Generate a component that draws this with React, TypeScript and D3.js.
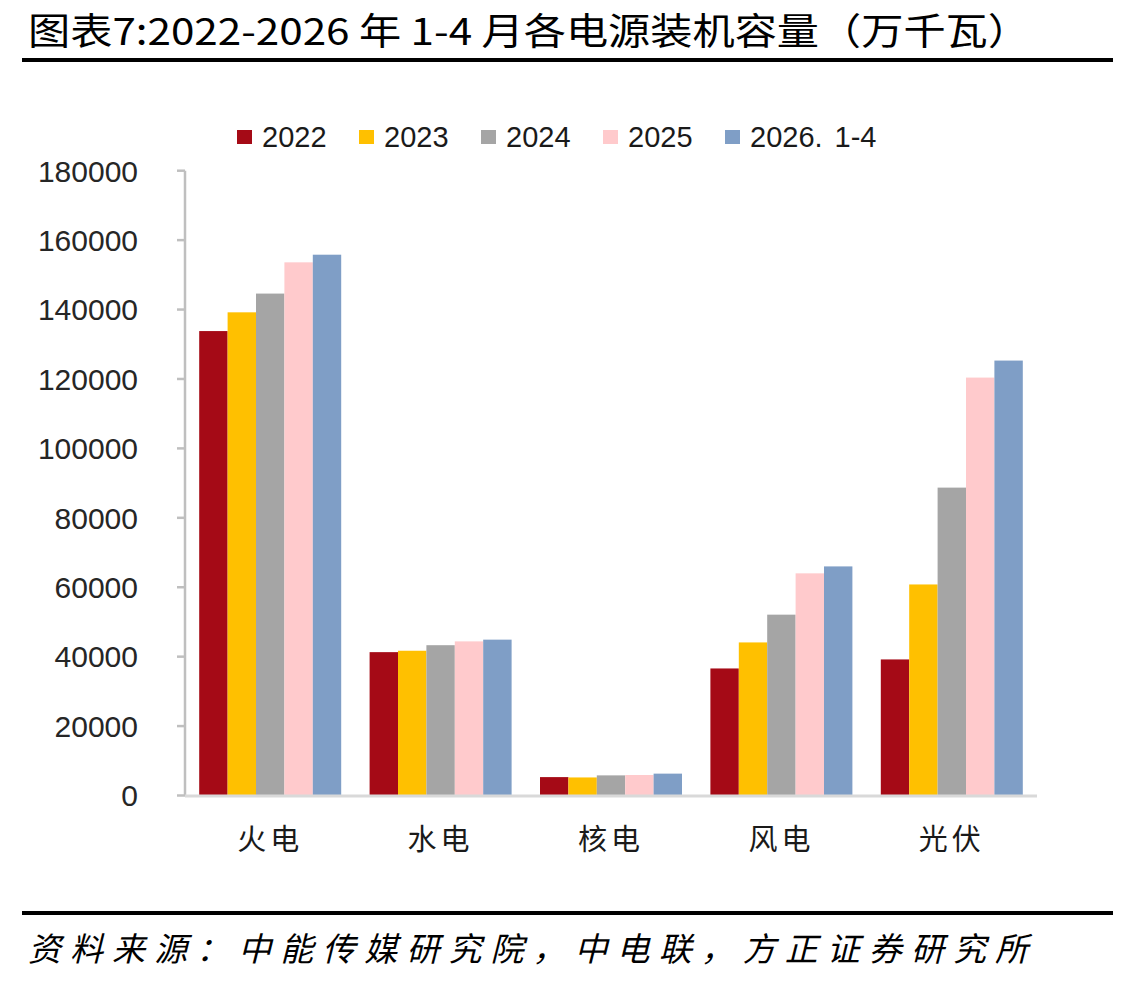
import React from "react";
import * as d3 from "d3";

const categories = ["火电", "水电", "核电", "风电", "光伏"];
const seriesNames = ["2022", "2023", "2024", "2025", "2026.1-4"];
const seriesColors = ["#A50A16", "#FFC000", "#A5A5A5", "#FFCACC", "#7F9EC6"];

const values2022 = [133800, 41300, 5300, 36600, 39200];
const values2023 = [139200, 41700, 5200, 44100, 60800];
const values2024 = [144600, 43300, 5800, 52100, 88700];
const values2025 = [153600, 44400, 5900, 64000, 120400];
const values2026 = [155800, 44900, 6300, 66000, 125300];
const seriesValues = [values2022, values2023, values2024, values2025, values2026];

const yTicks = [0, 20000, 40000, 60000, 80000, 100000, 120000, 140000, 160000, 180000];

const titleText = "图表7:2022-2026 年 1-4 月各电源装机容量（万千瓦）";
const sourceText = "资料来源：中能传媒研究院，中电联，方正证券研究所";

const W = 1130;
const H = 984;
const plot = { left: 185, right: 1037, top: 170.7, bottom: 795.5 };

// Legend labels with a "." are drawn in two parts so the period gets a wider gap.
function LegendLabel({ name }: { name: string }) {
  const dot = name.indexOf(".");
  if (dot < 0) return <>{name}</>;
  return (
    <>
      <tspan>{name.slice(0, dot + 1)}</tspan>
      <tspan dx={12}>{name.slice(dot + 1)}</tspan>
    </>
  );
}

export default function App() {
  const x = d3
    .scaleBand<string>()
    .domain(categories)
    .range([plot.left, plot.right])
    .paddingInner(0)
    .paddingOuter(0);
  const band = x.bandwidth();
  const barW = band / 6;
  const xs = d3
    .scaleBand<string>()
    .domain(seriesNames)
    .range([barW / 2, band - barW / 2]);
  const y = d3.scaleLinear().domain([0, 180000]).range([plot.bottom, plot.top]);

  const numFont = "'Liberation Sans', Arial, sans-serif";
  const cjkFont = "'Noto Sans CJK SC', sans-serif";

  const legendX0 = 237;
  const legendStep = 122;

  return (
    <svg
      width={W}
      height={H}
      viewBox={`0 0 ${W} ${H}`}
      style={{ position: "absolute", left: 0, top: 0, background: "#fff" }}
    >
      <rect x={0} y={0} width={W} height={H} fill="#fff" />

      {/* header */}
      <text
        x={28}
        y={45}
        fontFamily={cjkFont}
        fontSize={37}
        fill="#000"
        textLength={1002}
        lengthAdjust="spacingAndGlyphs"
      >
        {titleText}
      </text>
      <line x1={22} x2={1113} y1={60} y2={60} stroke="#000" strokeWidth={4} />

      {/* legend */}
      {seriesNames.map((name, i) => (
        <g key={name} transform={`translate(${legendX0 + i * legendStep},0)`}>
          <rect x={0} y={130} width={15} height={14} fill={seriesColors[i]} />
          <text x={25} y={147} fontFamily={numFont} fontSize={29} fill="#1a1a1a">
            <LegendLabel name={name} />
          </text>
        </g>
      ))}

      {/* y axis */}
      <line x1={plot.left} x2={plot.left} y1={y(180000)} y2={plot.bottom} stroke="#BFBFBF" strokeWidth={2.5} />
      {yTicks.map((t) => (
        <g key={t}>
          <line x1={177} x2={plot.left} y1={y(t)} y2={y(t)} stroke="#BFBFBF" strokeWidth={2.5} />
          <text
            x={138}
            y={y(t)}
            dy="0.36em"
            textAnchor="end"
            fontFamily={numFont}
            fontSize={30}
            fill="#262626"
          >
            {t}
          </text>
        </g>
      ))}

      {/* bars */}
      {categories.map((c, ci) => (
        <g key={c} transform={`translate(${x(c)},0)`}>
          {seriesNames.map((s, si) => {
            const v = seriesValues[si][ci];
            return (
              <rect
                key={s}
                x={xs(s)}
                y={y(v)}
                width={xs.bandwidth()}
                height={y(0) - y(v)}
                fill={seriesColors[si]}
              />
            );
          })}
        </g>
      ))}

      {/* x axis */}
      <line x1={plot.left} x2={plot.right} y1={plot.bottom + 0.5} y2={plot.bottom + 0.5} stroke="#D9D9D9" strokeWidth={3} />
      {categories.map((c) => (
        <text
          key={c}
          x={(x(c) ?? 0) + band / 2}
          y={850}
          textAnchor="middle"
          fontFamily={cjkFont}
          fontSize={29}
          fill="#1a1a1a"
          letterSpacing={4}
        >
          {c}
        </text>
      ))}

      {/* footer */}
      <line x1={22} x2={1113} y1={913} y2={913} stroke="#000" strokeWidth={4} />
      <text
        x={28}
        y={961}
        fontFamily={cjkFont}
        fontSize={33}
        fontStyle="italic"
        fill="#000"
        textLength={1000}
        lengthAdjust="spacing"
      >
        {sourceText}
      </text>
    </svg>
  );
}
